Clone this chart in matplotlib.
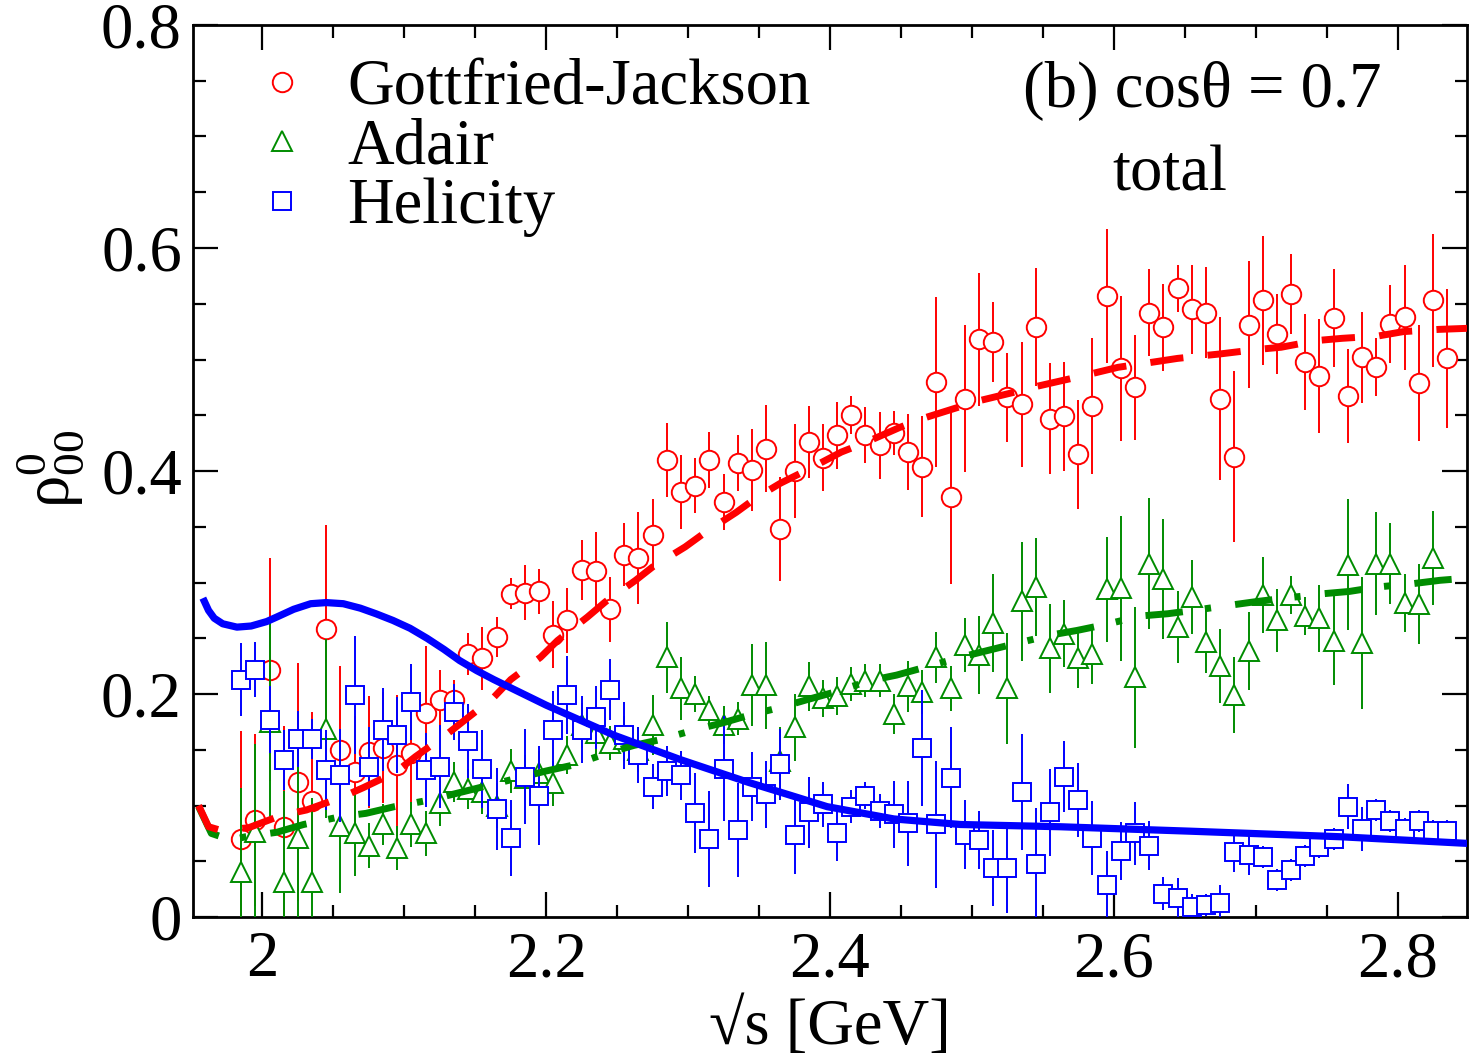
import matplotlib
matplotlib.use("Agg")
import matplotlib.pyplot as plt
from matplotlib.lines import Line2D
from matplotlib.ticker import MultipleLocator, FuncFormatter

# sqrt(s) bins [GeV]
energy = [1.985, 1.995, 2.005, 2.015, 2.025, 2.035, 2.045, 2.055, 2.065, 2.075,
          2.085, 2.095, 2.105, 2.115, 2.125, 2.135, 2.145, 2.155, 2.165, 2.175,
          2.185, 2.195, 2.205, 2.215, 2.225, 2.235, 2.245, 2.255, 2.265, 2.275,
          2.285, 2.295, 2.305, 2.315, 2.325, 2.335, 2.345, 2.355, 2.365, 2.375,
          2.385, 2.395, 2.405, 2.415, 2.425, 2.435, 2.445, 2.455, 2.465, 2.475,
          2.485, 2.495, 2.505, 2.515, 2.525, 2.535, 2.545, 2.555, 2.565, 2.575,
          2.585, 2.595, 2.605, 2.615, 2.625, 2.635, 2.645, 2.655, 2.665, 2.675,
          2.685, 2.695, 2.705, 2.715, 2.725, 2.735, 2.745, 2.755, 2.765, 2.775,
          2.785, 2.795, 2.805, 2.815, 2.825, 2.835]

# Gottfried-Jackson frame
gj_val = [0.070, 0.087, 0.222, 0.081, 0.121, 0.104, 0.258, 0.150, 0.130, 0.148,
          0.152, 0.136, 0.147, 0.183, 0.195, 0.195, 0.236, 0.232, 0.251, 0.290,
          0.291, 0.292, 0.253, 0.266, 0.311, 0.310, 0.276, 0.325, 0.322, 0.343,
          0.410, 0.381, 0.387, 0.410, 0.372, 0.407, 0.401, 0.420, 0.348, 0.400,
          0.426, 0.412, 0.432, 0.450, 0.432, 0.423, 0.434, 0.417, 0.404, 0.480,
          0.377, 0.465, 0.518, 0.516, 0.466, 0.460, 0.529, 0.447, 0.449, 0.415,
          0.458, 0.557, 0.492, 0.475, 0.542, 0.529, 0.564, 0.545, 0.542, 0.465,
          0.413, 0.531, 0.553, 0.523, 0.559, 0.498, 0.485, 0.537, 0.467, 0.502,
          0.493, 0.532, 0.538, 0.479, 0.553, 0.501]
gj_err = [0.097, 0.077, 0.100, 0.090, 0.107, 0.080, 0.094, 0.075, 0.050, 0.050,
          0.050, 0.063, 0.050, 0.060, 0.027, 0.018, 0.019, 0.028, 0.018, 0.014,
          0.025, 0.020, 0.030, 0.029, 0.027, 0.035, 0.029, 0.028, 0.041, 0.032,
          0.033, 0.033, 0.025, 0.025, 0.025, 0.025, 0.037, 0.039, 0.047, 0.042,
          0.032, 0.030, 0.030, 0.017, 0.025, 0.030, 0.020, 0.034, 0.045, 0.076,
          0.078, 0.066, 0.060, 0.036, 0.040, 0.056, 0.053, 0.050, 0.049, 0.049,
          0.061, 0.060, 0.065, 0.047, 0.039, 0.039, 0.021, 0.040, 0.041, 0.073,
          0.077, 0.057, 0.058, 0.036, 0.036, 0.043, 0.051, 0.044, 0.042, 0.041,
          0.026, 0.035, 0.047, 0.052, 0.060, 0.062]

# Adair frame (one bin fewer at the top end)
ad_val = [0.040, 0.076, 0.175, 0.031, 0.071, 0.031, 0.169, 0.082, 0.075, 0.064,
          0.083, 0.062, 0.083, 0.075, 0.102, 0.121, 0.115, 0.112, 0.100, 0.131,
          0.125, 0.129, 0.120, 0.145, 0.172, 0.165, 0.156, 0.160, 0.150, 0.172,
          0.233, 0.205, 0.200, 0.186, 0.172, 0.178, 0.208, 0.208, 0.140, 0.170,
          0.207, 0.196, 0.198, 0.209, 0.212, 0.212, 0.182, 0.207, 0.202, 0.233,
          0.205, 0.244, 0.235, 0.264, 0.205, 0.283, 0.296, 0.241, 0.254, 0.232,
          0.236, 0.294, 0.295, 0.215, 0.317, 0.303, 0.260, 0.287, 0.247, 0.225,
          0.199, 0.239, 0.289, 0.266, 0.289, 0.270, 0.268, 0.248, 0.316, 0.246,
          0.317, 0.317, 0.282, 0.281, 0.322]
ad_err = [0.076, 0.079, 0.090, 0.082, 0.100, 0.076, 0.080, 0.060, 0.038, 0.020,
          0.018, 0.020, 0.020, 0.020, 0.020, 0.018, 0.018, 0.020, 0.020, 0.020,
          0.020, 0.020, 0.020, 0.017, 0.020, 0.020, 0.015, 0.020, 0.020, 0.027,
          0.032, 0.028, 0.016, 0.012, 0.017, 0.015, 0.037, 0.039, 0.030, 0.030,
          0.022, 0.017, 0.017, 0.015, 0.015, 0.015, 0.018, 0.023, 0.020, 0.023,
          0.020, 0.024, 0.035, 0.044, 0.050, 0.053, 0.044, 0.040, 0.030, 0.027,
          0.027, 0.047, 0.065, 0.063, 0.059, 0.054, 0.032, 0.033, 0.028, 0.033,
          0.034, 0.035, 0.034, 0.028, 0.017, 0.017, 0.030, 0.040, 0.059, 0.059,
          0.046, 0.036, 0.026, 0.036, 0.042]

# Helicity frame
he_val = [0.213, 0.222, 0.177, 0.141, 0.160, 0.160, 0.132, 0.127, 0.199, 0.135,
          0.168, 0.163, 0.193, 0.132, 0.135, 0.184, 0.158, 0.133, 0.097, 0.071,
          0.126, 0.109, 0.168, 0.199, 0.168, 0.179, 0.204, 0.163, 0.145, 0.117,
          0.131, 0.127, 0.093, 0.070, 0.133, 0.078, 0.117, 0.110, 0.137, 0.074,
          0.094, 0.101, 0.075, 0.099, 0.109, 0.095, 0.092, 0.084, 0.152, 0.083,
          0.125, 0.074, 0.069, 0.044, 0.044, 0.112, 0.048, 0.094, 0.126, 0.105,
          0.071, 0.029, 0.059, 0.075, 0.064, 0.021, 0.017, 0.009, 0.011, 0.013,
          0.058, 0.056, 0.054, 0.033, 0.042, 0.055, 0.063, 0.070, 0.099, 0.079,
          0.096, 0.086, 0.079, 0.086, 0.077, 0.077]
he_err = [0.033, 0.025, 0.030, 0.027, 0.025, 0.018, 0.036, 0.042, 0.053, 0.035,
          0.037, 0.034, 0.034, 0.033, 0.037, 0.025, 0.033, 0.035, 0.037, 0.034,
          0.043, 0.044, 0.035, 0.035, 0.030, 0.028, 0.027, 0.030, 0.025, 0.020,
          0.022, 0.022, 0.036, 0.043, 0.047, 0.042, 0.031, 0.030, 0.032, 0.035,
          0.032, 0.020, 0.025, 0.015, 0.012, 0.015, 0.030, 0.038, 0.052, 0.057,
          0.045, 0.031, 0.026, 0.034, 0.040, 0.052, 0.050, 0.039, 0.032, 0.033,
          0.033, 0.030, 0.026, 0.028, 0.022, 0.015, 0.018, 0.012, 0.010, 0.016,
          0.018, 0.018, 0.010, 0.010, 0.010, 0.010, 0.010, 0.010, 0.020, 0.020,
          0.010, 0.010, 0.010, 0.010, 0.010, 0.010]

# model curves
gj_model_x = [1.955, 1.962, 1.970, 1.990, 2.013, 2.031, 2.055, 2.071, 2.094, 2.108,
              2.129, 2.143, 2.163, 2.175, 2.196, 2.208, 2.229, 2.242, 2.263, 2.275,
              2.298, 2.311, 2.334, 2.348, 2.365, 2.384, 2.408, 2.424, 2.449, 2.465,
              2.490, 2.505, 2.531, 2.546, 2.577, 2.603, 2.619, 2.645, 2.675, 2.701,
              2.718, 2.743, 2.761, 2.786, 2.804, 2.829, 2.850]
gj_model_y = [0.100, 0.081, 0.078, 0.080, 0.091, 0.096, 0.107, 0.116, 0.130, 0.144,
              0.163, 0.177, 0.197, 0.213, 0.233, 0.248, 0.269, 0.283, 0.302, 0.314,
              0.332, 0.344, 0.363, 0.376, 0.389, 0.401, 0.417, 0.425, 0.439, 0.447,
              0.457, 0.463, 0.471, 0.476, 0.485, 0.493, 0.496, 0.501, 0.505, 0.509,
              0.511, 0.517, 0.519, 0.521, 0.525, 0.527, 0.528]

ad_model_x = [1.955, 1.964, 1.978, 1.988, 2.010, 2.029, 2.055, 2.073, 2.093, 2.118,
              2.137, 2.156, 2.181, 2.200, 2.218, 2.243, 2.262, 2.280, 2.305, 2.324,
              2.343, 2.365, 2.384, 2.404, 2.428, 2.447, 2.467, 2.492, 2.511, 2.530,
              2.556, 2.574, 2.593, 2.619, 2.638, 2.656, 2.684, 2.701, 2.721, 2.748,
              2.766, 2.786, 2.811, 2.830, 2.850]
ad_model_y = [0.099, 0.075, 0.069, 0.072, 0.076, 0.083, 0.090, 0.093, 0.099, 0.105,
              0.111, 0.117, 0.125, 0.131, 0.136, 0.147, 0.154, 0.159, 0.168, 0.174,
              0.181, 0.188, 0.195, 0.202, 0.212, 0.217, 0.224, 0.233, 0.239, 0.245,
              0.253, 0.257, 0.262, 0.270, 0.272, 0.275, 0.280, 0.283, 0.286, 0.290,
              0.292, 0.296, 0.299, 0.302, 0.304]

he_model_x = [1.958, 1.962, 1.966, 1.972, 1.982, 1.992, 2.003, 2.010, 2.022, 2.034,
              2.045, 2.057, 2.069, 2.080, 2.092, 2.104, 2.116, 2.128, 2.139, 2.151,
              2.163, 2.200, 2.248, 2.295, 2.342, 2.365, 2.398, 2.445, 2.492, 2.562,
              2.654, 2.760, 2.850]
he_model_y = [0.286, 0.275, 0.268, 0.263, 0.260, 0.261, 0.265, 0.269, 0.276, 0.281,
              0.282, 0.281, 0.277, 0.272, 0.266, 0.259, 0.250, 0.240, 0.230, 0.221,
              0.213, 0.190, 0.163, 0.141, 0.121, 0.112, 0.099, 0.088, 0.083, 0.081,
              0.077, 0.072, 0.066]

RED = "#ff0000"
GREEN = "#008c00"
BLUE = "#0000ff"

plt.rcParams["font.family"] = ["Liberation Serif", "DejaVu Serif"]
plt.rcParams["mathtext.fontset"] = "custom"
plt.rcParams["mathtext.rm"] = "Liberation Serif"
plt.rcParams["mathtext.it"] = "Liberation Serif:italic"
FS = 46.5

fig = plt.figure(figsize=(14.75, 10.63), dpi=100)
ax = fig.add_axes([0.1308, 0.1373, 0.8638, 0.8392])

common = dict(linestyle="none", markersize=14, markeredgewidth=1.4,
              markerfacecolor="white", elinewidth=1.4, capsize=0)
ax.errorbar(energy, gj_val, yerr=gj_err, marker="o", color=RED,
            markeredgecolor=RED, zorder=3, **common)
ax.errorbar(energy[:len(ad_val)], ad_val, yerr=ad_err, marker="^", color=GREEN,
            markeredgecolor=GREEN, zorder=4, **dict(common, markersize=15))
ax.errorbar(energy, he_val, yerr=he_err, marker="s", color=BLUE,
            markeredgecolor=BLUE, zorder=5, **dict(common, markersize=13))

ax.plot(ad_model_x, ad_model_y, color=GREEN, lw=5,
        linestyle=(0, (5.4, 3.2, 0.9, 3.5)), dash_capstyle="butt", zorder=6)
ax.plot(gj_model_x, gj_model_y, color=RED, lw=5,
        linestyle=(0, (4.8, 3.5)), dash_capstyle="butt", zorder=7)
ax.plot(he_model_x, he_model_y, color=BLUE, lw=5.2, solid_capstyle="butt",
        solid_joinstyle="round", zorder=8)

ax.set_xlim(1.951, 2.849)
ax.set_ylim(0, 0.8)
ax.xaxis.set_major_locator(MultipleLocator(0.2))
ax.xaxis.set_minor_locator(MultipleLocator(0.05))
ax.yaxis.set_major_locator(MultipleLocator(0.2))
ax.yaxis.set_minor_locator(MultipleLocator(0.05))
fmt = FuncFormatter(lambda v, p: "%g" % round(v, 3))
ax.xaxis.set_major_formatter(fmt)
ax.yaxis.set_major_formatter(fmt)
ax.tick_params(which="both", direction="in", top=True, right=True, width=1.6,
               labelsize=FS)
ax.tick_params(which="major", length=18)
ax.tick_params(which="minor", length=9)
ax.tick_params(axis="x", pad=10)
ax.tick_params(axis="y", pad=8)
for s in ax.spines.values():
    s.set_linewidth(2)

ax.set_xlabel("\u221as [GeV]", fontsize=FS)
ax.xaxis.set_label_coords(0.5, -0.09)
ax.set_ylabel(r"$\mathrm{\rho}^{0}_{00}$", fontsize=FS)
ax.yaxis.set_label_coords(-0.083, 0.503)

handles = [
    Line2D([], [], linestyle="none", marker="o", markersize=14, markeredgewidth=1.4,
           markerfacecolor="white", markeredgecolor=RED),
    Line2D([], [], linestyle="none", marker="^", markersize=15, markeredgewidth=1.4,
           markerfacecolor="white", markeredgecolor=GREEN),
    Line2D([], [], linestyle="none", marker="s", markersize=13, markeredgewidth=1.4,
           markerfacecolor="white", markeredgecolor=BLUE),
]
ax.legend(handles, ["Gottfried-Jackson", "Adair", "Helicity"], loc="upper left",
          bbox_to_anchor=(0.05, 0.962), frameon=False, fontsize=FS,
          handlelength=0.8, handletextpad=0.6, labelspacing=0.0,
          borderpad=0, borderaxespad=0)

ax.text(0.6515, 0.908, "(b) cos\u03b8 = 0.7", transform=ax.transAxes,
        fontsize=FS, ha="left", va="baseline")
ax.text(0.7213, 0.815, "total", transform=ax.transAxes,
        fontsize=FS, ha="left", va="baseline")

fig.savefig("out.png", dpi=100)
